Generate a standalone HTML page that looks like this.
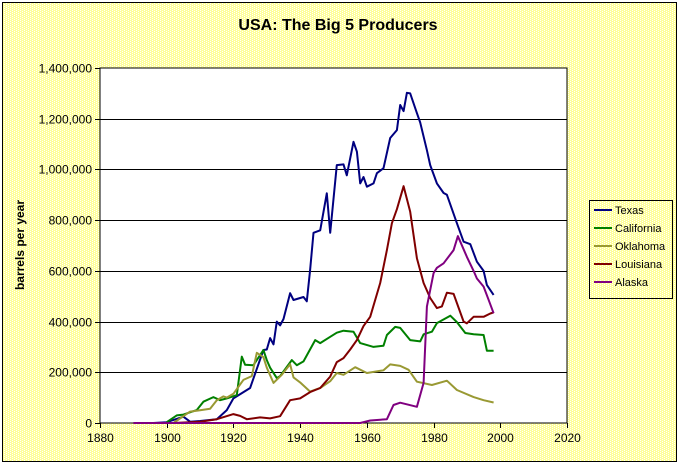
<!DOCTYPE html>
<html><head><meta charset="utf-8"><style>
html,body{margin:0;padding:0;background:#fff;}
svg{display:block;font-family:"Liberation Sans",Arial,sans-serif;}
</style></head><body>
<svg id="c" width="679" height="464" viewBox="0 0 679 464">
<defs>
<pattern id="tex" width="4" height="2" patternUnits="userSpaceOnUse">
<rect width="4" height="2" fill="#FFFF99"/>
<rect x="0" y="0" width="1" height="1" fill="#ffffff"/>
<rect x="2" y="1" width="1" height="1" fill="#ffffff"/>
</pattern>
</defs>
<rect x="2.5" y="2.5" width="674" height="459" fill="url(#tex)" stroke="#000"/>
<text x="338" y="30" text-anchor="middle" font-size="16" font-weight="bold">USA: The Big 5 Producers</text>
<rect x="100" y="68" width="467" height="355" fill="#fff" stroke="#000"/>
<g id="grid"></g>
<g id="axes"></g>
<g id="series"></g>
<text transform="translate(24,245) rotate(-90)" text-anchor="middle" font-size="12" font-weight="bold">barrels per year</text>
<g id="legend">
<rect x="589.5" y="200.5" width="83" height="98" fill="url(#tex)" stroke="#000"/>
</g>
</svg>
<script>
const yTicks=[0,200000,400000,600000,800000,1000000,1200000,1400000];
const xTicks=[1880,1900,1920,1940,1960,1980,2000,2020];
const seriesNames=["Texas","California","Oklahoma","Louisiana","Alaska"];
const seriesColors=["#000080","#008000","#999933","#800000","#800080"];
const texasYears=[1896,1900,1905,1907,1910,1915,1918,1920,1925,1929,1930,1931,1932,1933,1934,1935,1937,1938,1941,1942,1943,1944,1946,1948,1949,1951,1953,1954,1956,1957,1958,1959,1960,1962,1963,1965,1967,1969,1970,1971,1972,1973,1975,1976,1978,1979,1981,1983,1984,1987,1989,1991,1993,1995,1996,1998];
const texasVals=[0,3,25,5,8,15,51,97,138,288,290,335,310,400,385,410,512,485,497,480,603,750,760,906,750,1017,1020,977,1109,1070,945,970,932,945,985,1005,1124,1155,1254,1230,1302,1300,1222,1185,1076,1017,945,907,900,788,715,705,636,600,544,505];
const caliYears=[1900,1903,1905,1909,1911,1914,1916,1918,1921,1922.5,1923.5,1926,1929,1930,1931,1933,1934,1937.5,1939,1941,1944.5,1946,1949,1951,1953,1956,1958,1962,1965,1966,1968.5,1970,1973,1976,1977,1979.5,1981,1985,1987,1989.5,1992,1995,1996,1998];
const caliVals=[3,30,33,51,84,102,90,97,110,262,230,228,288,248,218,177,185,248,228,243,327,315,340,356,364,360,315,300,305,347,379,375,327,322,350,360,394,423,398,355,350,347,285,285];
const okYears=[1902,1907,1910,1913,1915,1917,1918,1920,1923,1925.5,1927,1929,1930,1932,1934.5,1937,1938,1940,1943,1946,1949,1951,1953,1956.5,1960,1965,1967,1970,1972.5,1975,1979.5,1984,1987,1992,1995,1998];
const okVals=[0,45,50,56,90,105,100,115,170,185,277,260,218,158,190,232,180,160,124,138,165,197,190,220,197,208,231,225,210,163,150,167,130,102,90,81];
const laYears=[1902,1910,1915,1920,1922,1924,1928,1931,1934,1937,1940,1943,1946,1949,1951,1953,1955,1957,1959,1961,1964,1966,1967.5,1969,1971,1973,1975,1977,1979,1981,1982.5,1984,1986,1989,1990,1992,1995,1997,1998];
const laVals=[0,5,15,35,28,15,22,18,27,90,97,122,138,183,240,256,290,327,382,419,552,682,788,843,934,833,650,552,493,453,460,514,509,400,393,419,419,432,436];
const akYears=[1890,1958,1961,1966,1968,1970,1975,1977,1978,1980,1981,1983,1986,1987.3,1988,1990,1992,1993,1995,1996.5,1998];
const akVals=[0,0,10,15,71,80,64,158,459,591,612,630,682,737,715,655,600,570,538,486,433];
const allYears=[texasYears,caliYears,okYears,laYears,akYears];
const allVals=[texasVals,caliVals,okVals,laVals,akVals];

const NS="http://www.w3.org/2000/svg";
const X0=100,X1=567,Y0=423,Y1=68;
function xs(yr){return X0+(yr-1880)/(2020-1880)*(X1-X0);}
function ys(v){return Y0-v/1400000*(Y0-Y1);}
function mk(tag,attrs,parent){const e=document.createElementNS(NS,tag);for(const k in attrs)e.setAttribute(k,attrs[k]);parent.appendChild(e);return e;}
const grid=document.getElementById('grid'),axes=document.getElementById('axes'),ser=document.getElementById('series'),leg=document.getElementById('legend');
function fmt(n){return n.toString().replace(/\B(?=(\d{3})+(?!\d))/g,",");}
yTicks.forEach(t=>{
  const y=Math.round(ys(t))+0.5;
  if(t>0&&t<1400000){const g=mk('line',{x1:X0,x2:X1,y1:y,y2:y,stroke:'#000'},grid);
  
  }
  const tk=mk('line',{x1:X0-5,x2:X0,y1:y,y2:y,stroke:'#000'},axes);
  
  
  const tx=mk('text',{x:X0-8,y:y+4,'text-anchor':'end','font-size':'12'},axes);
  tx.textContent=fmt(t);
  
  
});
xTicks.forEach(t=>{
  const x=Math.round(xs(t))+0.5;
  const tk=mk('line',{x1:x,x2:x,y1:Y0,y2:Y0+5,stroke:'#000'},axes);
  
  
  const tx=mk('text',{x:x,y:Y0+19,'text-anchor':'middle','font-size':'12'},axes);
  tx.textContent=t;
  
  
});
allYears.forEach((yrs,i)=>{
  const vals=allVals[i];
  const pts=yrs.map((yr,j)=>xs(yr).toFixed(1)+','+ys(vals[j]*1000).toFixed(1)).join(' ');
  const p=mk('polyline',{points:pts,fill:'none',stroke:seriesColors[i],'stroke-width':2,'stroke-linejoin':'round'},ser);
  
  
  const ly=210+i*18;
  const ll=mk('line',{x1:594,x2:612,y1:ly,y2:ly,stroke:seriesColors[i],'stroke-width':2},leg);
  
  
  const lt=mk('text',{x:615,y:ly+4,'font-size':'11'},leg);
  lt.textContent=seriesNames[i];
  
  
});
</script>
</body></html>
